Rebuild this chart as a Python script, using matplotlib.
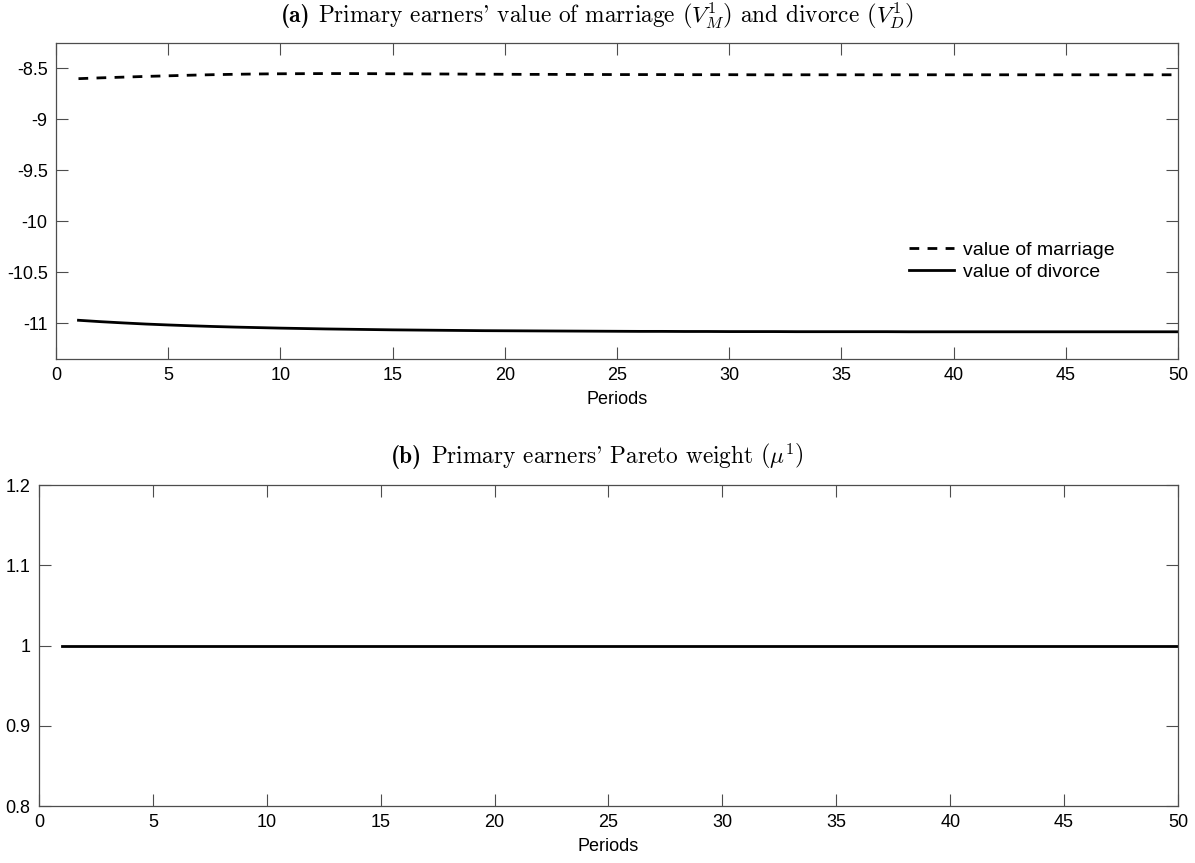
import numpy as np
import matplotlib
matplotlib.use('Agg')
import matplotlib.pyplot as plt
from matplotlib.ticker import FuncFormatter, MultipleLocator

plt.rcParams['font.family'] = ['Liberation Sans', 'DejaVu Sans']
plt.rcParams['mathtext.fontset'] = 'cm'
plt.rcParams['lines.scale_dashes'] = False

# ------------------------------------------------------------
# data: primary earner values per period
# ------------------------------------------------------------
periods = list(range(1, 51))

value_marriage = [
    -8.600, -8.592, -8.585, -8.578, -8.572, -8.566, -8.561, -8.557, -8.554, -8.552,
    -8.551, -8.550, -8.550, -8.551, -8.552, -8.553, -8.554, -8.555, -8.556, -8.557,
    -8.558, -8.558, -8.559, -8.559, -8.560, -8.560, -8.560, -8.561, -8.561, -8.561,
    -8.562, -8.562, -8.562, -8.562, -8.562, -8.562, -8.562, -8.562, -8.562, -8.562,
    -8.562, -8.562, -8.562, -8.562, -8.562, -8.562, -8.562, -8.562, -8.562, -8.562,
]

value_divorce = [
    -10.970, -10.984, -10.996, -11.007, -11.016, -11.024, -11.031, -11.037, -11.042, -11.047,
    -11.051, -11.055, -11.058, -11.061, -11.064, -11.066, -11.068, -11.070, -11.072, -11.073,
    -11.074, -11.075, -11.076, -11.077, -11.078, -11.079, -11.079, -11.080, -11.080, -11.081,
    -11.081, -11.081, -11.082, -11.082, -11.082, -11.082, -11.082, -11.083, -11.083, -11.083,
    -11.083, -11.083, -11.083, -11.083, -11.083, -11.083, -11.083, -11.083, -11.083, -11.083,
]

pareto_weight = [1.0] * 50

fig = plt.figure(figsize=(11.95, 8.63), dpi=100)
ax1 = fig.add_axes([0.0469, 0.584, 0.9389, 0.3662])
ax2 = fig.add_axes([0.0326, 0.066, 0.9532, 0.372])

fmt = FuncFormatter(lambda v, pos: ('%g' % round(v, 6)))

def style_axes(ax):
    ax.set_xlim(0, 50)
    ax.xaxis.set_major_locator(MultipleLocator(5))
    ax.tick_params(direction='in', length=8.5, width=0.8, top=True, right=True,
                   labelsize=13, colors='0.3', labelcolor='black', pad=6)
    for s in ax.spines.values():
        s.set_color('0.3')
        s.set_linewidth(0.9)
    ax.xaxis.set_major_formatter(fmt)
    ax.yaxis.set_major_formatter(fmt)
    ax.set_xlabel('Periods', fontsize=13, labelpad=5)

# (a) value of marriage vs divorce
ax1.plot(periods, value_marriage, color='black', lw=2.0, dashes=(7, 6), label='value of marriage')
ax1.plot(periods, value_divorce, color='black', lw=2.0, label='value of divorce')
ax1.set_ylim(-11.35, -8.25)
ax1.set_yticks(np.arange(-11, -8.4, 0.5))
style_axes(ax1)
ax1.legend(loc='center left', bbox_to_anchor=(0.745, 0.31), frameon=False, fontsize=14,
           handlelength=2.3, handletextpad=0.45, labelspacing=0.25)

# (b) Pareto weight
ax2.plot(periods, pareto_weight, color='black', lw=2.0)
ax2.set_ylim(0.8, 1.2)
ax2.set_yticks([0.8, 0.9, 1.0, 1.1, 1.2])
style_axes(ax2)

# panel titles: bold tag + roman body, centred on the figure
renderer = fig.canvas.get_renderer()

def panel_title(y, tag, body, size=16.8):
    t1 = fig.text(0, y, tag, ha='left', va='center', fontsize=size, family='cmb10')
    t2 = fig.text(0, y, body, ha='left', va='center', fontsize=size, family='cmr10')
    w1 = t1.get_window_extent(renderer).width / fig.bbox.width
    w2 = t2.get_window_extent(renderer).width / fig.bbox.width
    gap = 0.007
    x0 = 0.5 - (w1 + gap + w2) / 2
    t1.set_x(x0)
    t2.set_x(x0 + w1 + gap)

panel_title(0.982, '(a)',
            r"Primary earners' value of marriage $\left(V_M^1\right)$ and divorce $\left(V_D^1\right)$")
panel_title(0.471, '(b)', r"Primary earners' Pareto weight $\left(\mu^1\right)$")

fig.savefig('out.png', dpi=100)
